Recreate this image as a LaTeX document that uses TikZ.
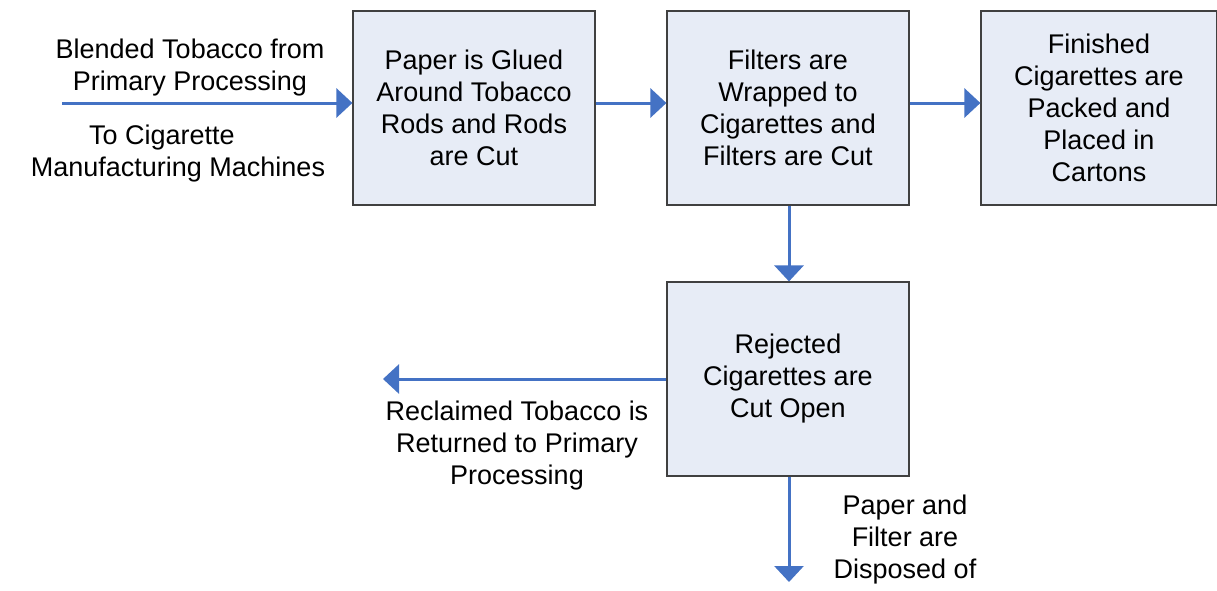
\documentclass[tikz,border=0pt]{standalone}
\usepackage{fontspec}
\setmainfont{Liberation Sans}
\usetikzlibrary{arrows.meta}
\definecolor{flowblue}{RGB}{68,114,196}
\definecolor{boxfill}{RGB}{231,236,246}
\definecolor{boxline}{RGB}{64,64,64}
\begin{document}
\begin{tikzpicture}[x=1pt,y=-1pt,
  every node/.style={font=\fontsize{27}{32}\selectfont, align=center, inner sep=0pt},
  procbox/.style={draw=boxline, line width=1.2pt, fill=boxfill, minimum width=242pt, minimum height=194pt},
  flow/.style={draw=flowblue, line width=3pt, -{Triangle[width=29pt,length=16pt]}}
]
\useasboundingbox (0,0) rectangle (1217,590);
\node[procbox] (b1) at (474,108) {Paper is Glued\\Around Tobacco\\Rods and Rods\\are Cut};
\node[procbox] (b2) at (788,108) {Filters are\\Wrapped to\\Cigarettes and\\Filters are Cut};
\node[procbox, minimum width=236pt] (b3) at (1099,108) {Finished\\Cigarettes are\\Packed and\\Placed in\\Cartons};
\node[procbox] (b4) at (788,379) {Rejected\\Cigarettes are\\Cut Open};

\coordinate (in) at (62,103);
\coordinate (outl) at (383,379);
\coordinate (outd) at (789,582);

\node (t1) at (190,68) {Blended Tobacco from\\Primary Processing};
\node (t2) at (178,154) {To Cigarette\hspace*{32pt}\\Manufacturing Machines};
\node (t3) at (517,446) {Reclaimed Tobacco is\\Returned to Primary\\Processing};
\node (t4) at (905,540) {Paper and\\Filter are\\Disposed of};

\draw[flow] (in) -- (b1.west |- in);
\draw[flow] (b1.east |- in) -- (b2.west |- in);
\draw[flow] (b2.east |- in) -- (b3.west |- in);
\draw[flow] (b2.south -| outd) -- (b4.north -| outd);
\draw[flow] (b4.west |- outl) -- (outl);
\draw[flow] (b4.south -| outd) -- (outd);
\end{tikzpicture}
\end{document}
